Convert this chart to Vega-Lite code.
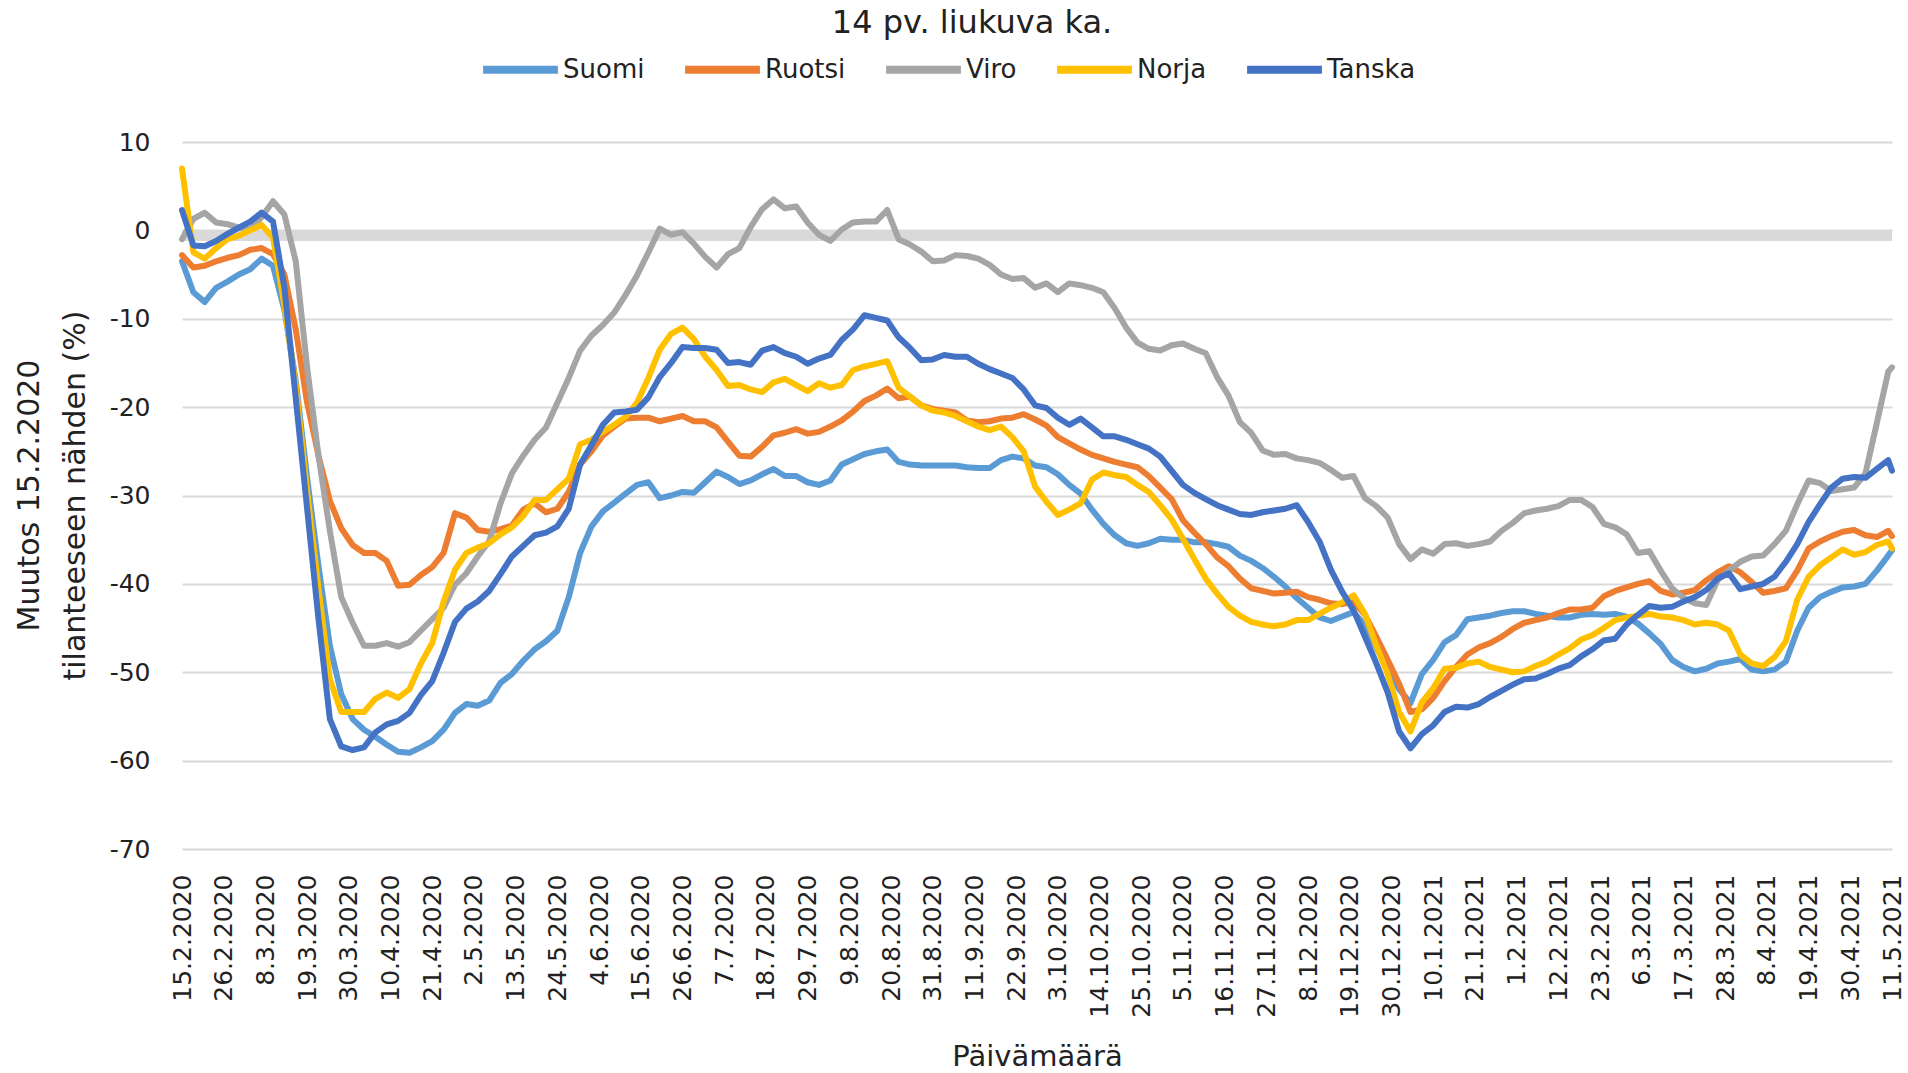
{
  "$schema": "https://vega.github.io/schema/vega-lite/v6.json",
  "width": 1710,
  "height": 707,
  "autosize": {"type": "none"},
  "padding": {"left": 182, "top": 142, "right": 16, "bottom": 224},
  "background": "white",
  "title": {"text": "14 pv. liukuva ka.", "font": "DejaVu Sans", "fontSize": 32, "fontWeight": "normal", "color": "#222222", "anchor": "middle", "dx": -65, "dy": 31, "offset": 4, "baseline": "middle"},
  "data": {"values": [
    {"pvm":"2020-02-15","Suomi":-3.5,"Ruotsi":-2.8,"Viro":-1.0,"Norja":7.0,"Tanska":2.3},
    {"pvm":"2020-02-18","Suomi":-7.0,"Ruotsi":-4.2,"Viro":1.3,"Norja":-2.5,"Tanska":-1.7},
    {"pvm":"2020-02-21","Suomi":-8.1,"Ruotsi":-4.0,"Viro":2.0,"Norja":-3.2,"Tanska":-1.8},
    {"pvm":"2020-02-24","Suomi":-6.5,"Ruotsi":-3.5,"Viro":0.9,"Norja":-2.0,"Tanska":-1.2},
    {"pvm":"2020-02-27","Suomi":-5.8,"Ruotsi":-3.1,"Viro":0.7,"Norja":-1.0,"Tanska":-0.4},
    {"pvm":"2020-03-01","Suomi":-5.0,"Ruotsi":-2.8,"Viro":0.3,"Norja":-0.6,"Tanska":0.3},
    {"pvm":"2020-03-04","Suomi":-4.4,"Ruotsi":-2.2,"Viro":0.1,"Norja":0.0,"Tanska":1.0},
    {"pvm":"2020-03-07","Suomi":-3.2,"Ruotsi":-2.0,"Viro":1.5,"Norja":0.6,"Tanska":2.0},
    {"pvm":"2020-03-10","Suomi":-4.0,"Ruotsi":-2.7,"Viro":3.3,"Norja":-0.8,"Tanska":1.0},
    {"pvm":"2020-03-13","Suomi":-9.0,"Ruotsi":-5.0,"Viro":1.8,"Norja":-8.5,"Tanska":-6.5},
    {"pvm":"2020-03-16","Suomi":-17.0,"Ruotsi":-11.2,"Viro":-3.5,"Norja":-17.5,"Tanska":-19.0},
    {"pvm":"2020-03-19","Suomi":-28.0,"Ruotsi":-19.5,"Viro":-15.5,"Norja":-29.5,"Tanska":-31.5},
    {"pvm":"2020-03-22","Suomi":-38.0,"Ruotsi":-25.5,"Viro":-25.5,"Norja":-40.5,"Tanska":-44.0},
    {"pvm":"2020-03-25","Suomi":-47.0,"Ruotsi":-30.6,"Viro":-34.0,"Norja":-50.8,"Tanska":-55.3},
    {"pvm":"2020-03-28","Suomi":-52.5,"Ruotsi":-33.7,"Viro":-41.5,"Norja":-54.5,"Tanska":-58.4},
    {"pvm":"2020-03-31","Suomi":-55.3,"Ruotsi":-35.6,"Viro":-44.4,"Norja":-54.5,"Tanska":-58.8},
    {"pvm":"2020-04-03","Suomi":-56.5,"Ruotsi":-36.5,"Viro":-47.0,"Norja":-54.5,"Tanska":-58.5},
    {"pvm":"2020-04-06","Suomi":-57.3,"Ruotsi":-36.5,"Viro":-47.0,"Norja":-53.0,"Tanska":-56.8},
    {"pvm":"2020-04-09","Suomi":-58.2,"Ruotsi":-37.4,"Viro":-46.7,"Norja":-52.3,"Tanska":-55.9},
    {"pvm":"2020-04-12","Suomi":-59.0,"Ruotsi":-40.2,"Viro":-47.1,"Norja":-52.9,"Tanska":-55.5},
    {"pvm":"2020-04-15","Suomi":-59.1,"Ruotsi":-40.1,"Viro":-46.6,"Norja":-51.9,"Tanska":-54.6},
    {"pvm":"2020-04-18","Suomi":-58.5,"Ruotsi":-39.0,"Viro":-45.3,"Norja":-49.0,"Tanska":-52.6},
    {"pvm":"2020-04-21","Suomi":-57.8,"Ruotsi":-38.1,"Viro":-44.0,"Norja":-46.7,"Tanska":-51.0},
    {"pvm":"2020-04-24","Suomi":-56.5,"Ruotsi":-36.5,"Viro":-42.7,"Norja":-42.0,"Tanska":-47.8},
    {"pvm":"2020-04-27","Suomi":-54.6,"Ruotsi":-32.0,"Viro":-40.1,"Norja":-38.4,"Tanska":-44.3},
    {"pvm":"2020-04-30","Suomi":-53.6,"Ruotsi":-32.5,"Viro":-38.8,"Norja":-36.5,"Tanska":-42.8},
    {"pvm":"2020-05-03","Suomi":-53.8,"Ruotsi":-33.9,"Viro":-36.9,"Norja":-35.9,"Tanska":-42.0},
    {"pvm":"2020-05-06","Suomi":-53.2,"Ruotsi":-34.1,"Viro":-35.2,"Norja":-35.4,"Tanska":-40.8},
    {"pvm":"2020-05-09","Suomi":-51.2,"Ruotsi":-33.8,"Viro":-30.9,"Norja":-34.4,"Tanska":-38.9},
    {"pvm":"2020-05-12","Suomi":-50.2,"Ruotsi":-33.4,"Viro":-27.5,"Norja":-33.6,"Tanska":-36.9},
    {"pvm":"2020-05-15","Suomi":-48.7,"Ruotsi":-31.6,"Viro":-25.5,"Norja":-32.3,"Tanska":-35.7},
    {"pvm":"2020-05-18","Suomi":-47.4,"Ruotsi":-30.9,"Viro":-23.7,"Norja":-30.5,"Tanska":-34.5},
    {"pvm":"2020-05-21","Suomi":-46.5,"Ruotsi":-31.9,"Viro":-22.3,"Norja":-30.5,"Tanska":-34.2},
    {"pvm":"2020-05-24","Suomi":-45.3,"Ruotsi":-31.5,"Viro":-19.5,"Norja":-29.3,"Tanska":-33.5},
    {"pvm":"2020-05-27","Suomi":-41.5,"Ruotsi":-29.6,"Viro":-16.7,"Norja":-28.1,"Tanska":-31.5},
    {"pvm":"2020-05-30","Suomi":-36.5,"Ruotsi":-26.5,"Viro":-13.6,"Norja":-24.2,"Tanska":-26.5},
    {"pvm":"2020-06-02","Suomi":-33.5,"Ruotsi":-25.0,"Viro":-11.9,"Norja":-23.7,"Tanska":-24.3},
    {"pvm":"2020-06-05","Suomi":-31.8,"Ruotsi":-23.2,"Viro":-10.7,"Norja":-22.8,"Tanska":-22.0},
    {"pvm":"2020-06-08","Suomi":-30.8,"Ruotsi":-22.2,"Viro":-9.3,"Norja":-22.0,"Tanska":-20.6},
    {"pvm":"2020-06-11","Suomi":-29.8,"Ruotsi":-21.3,"Viro":-7.3,"Norja":-21.1,"Tanska":-20.5},
    {"pvm":"2020-06-14","Suomi":-28.8,"Ruotsi":-21.2,"Viro":-5.1,"Norja":-19.5,"Tanska":-20.3},
    {"pvm":"2020-06-17","Suomi":-28.5,"Ruotsi":-21.2,"Viro":-2.5,"Norja":-16.7,"Tanska":-18.9},
    {"pvm":"2020-06-20","Suomi":-30.3,"Ruotsi":-21.6,"Viro":0.2,"Norja":-13.5,"Tanska":-16.6},
    {"pvm":"2020-06-23","Suomi":-30.0,"Ruotsi":-21.3,"Viro":-0.5,"Norja":-11.7,"Tanska":-15.0},
    {"pvm":"2020-06-26","Suomi":-29.6,"Ruotsi":-21.0,"Viro":-0.2,"Norja":-11.0,"Tanska":-13.2},
    {"pvm":"2020-06-29","Suomi":-29.7,"Ruotsi":-21.6,"Viro":-1.5,"Norja":-12.3,"Tanska":-13.3},
    {"pvm":"2020-07-02","Suomi":-28.5,"Ruotsi":-21.6,"Viro":-3.0,"Norja":-14.3,"Tanska":-13.3},
    {"pvm":"2020-07-05","Suomi":-27.3,"Ruotsi":-22.3,"Viro":-4.2,"Norja":-15.8,"Tanska":-13.5},
    {"pvm":"2020-07-08","Suomi":-27.9,"Ruotsi":-23.9,"Viro":-2.7,"Norja":-17.6,"Tanska":-15.0},
    {"pvm":"2020-07-11","Suomi":-28.7,"Ruotsi":-25.5,"Viro":-2.0,"Norja":-17.5,"Tanska":-14.9},
    {"pvm":"2020-07-14","Suomi":-28.3,"Ruotsi":-25.6,"Viro":0.4,"Norja":-18.0,"Tanska":-15.2},
    {"pvm":"2020-07-17","Suomi":-27.6,"Ruotsi":-24.5,"Viro":2.4,"Norja":-18.3,"Tanska":-13.6},
    {"pvm":"2020-07-20","Suomi":-27.0,"Ruotsi":-23.2,"Viro":3.5,"Norja":-17.2,"Tanska":-13.2},
    {"pvm":"2020-07-23","Suomi":-27.8,"Ruotsi":-22.9,"Viro":2.5,"Norja":-16.8,"Tanska":-13.9},
    {"pvm":"2020-07-26","Suomi":-27.8,"Ruotsi":-22.5,"Viro":2.7,"Norja":-17.5,"Tanska":-14.3},
    {"pvm":"2020-07-29","Suomi":-28.5,"Ruotsi":-23.0,"Viro":0.9,"Norja":-18.2,"Tanska":-15.1},
    {"pvm":"2020-08-01","Suomi":-28.8,"Ruotsi":-22.8,"Viro":-0.5,"Norja":-17.3,"Tanska":-14.5},
    {"pvm":"2020-08-04","Suomi":-28.3,"Ruotsi":-22.2,"Viro":-1.2,"Norja":-17.8,"Tanska":-14.1},
    {"pvm":"2020-08-07","Suomi":-26.5,"Ruotsi":-21.5,"Viro":0.1,"Norja":-17.5,"Tanska":-12.4},
    {"pvm":"2020-08-10","Suomi":-25.9,"Ruotsi":-20.5,"Viro":0.9,"Norja":-15.8,"Tanska":-11.2},
    {"pvm":"2020-08-13","Suomi":-25.3,"Ruotsi":-19.3,"Viro":1.0,"Norja":-15.4,"Tanska":-9.6},
    {"pvm":"2020-08-16","Suomi":-25.0,"Ruotsi":-18.7,"Viro":1.0,"Norja":-15.1,"Tanska":-9.9},
    {"pvm":"2020-08-19","Suomi":-24.8,"Ruotsi":-17.9,"Viro":2.3,"Norja":-14.8,"Tanska":-10.2},
    {"pvm":"2020-08-22","Suomi":-26.2,"Ruotsi":-19.0,"Viro":-1.0,"Norja":-17.8,"Tanska":-12.1},
    {"pvm":"2020-08-25","Suomi":-26.5,"Ruotsi":-18.8,"Viro":-1.6,"Norja":-18.8,"Tanska":-13.3},
    {"pvm":"2020-08-28","Suomi":-26.6,"Ruotsi":-19.8,"Viro":-2.4,"Norja":-19.8,"Tanska":-14.7},
    {"pvm":"2020-08-31","Suomi":-26.6,"Ruotsi":-20.2,"Viro":-3.5,"Norja":-20.4,"Tanska":-14.6},
    {"pvm":"2020-09-03","Suomi":-26.6,"Ruotsi":-20.4,"Viro":-3.4,"Norja":-20.6,"Tanska":-14.1},
    {"pvm":"2020-09-06","Suomi":-26.6,"Ruotsi":-20.6,"Viro":-2.8,"Norja":-21.0,"Tanska":-14.3},
    {"pvm":"2020-09-09","Suomi":-26.8,"Ruotsi":-21.5,"Viro":-2.9,"Norja":-21.6,"Tanska":-14.3},
    {"pvm":"2020-09-12","Suomi":-26.9,"Ruotsi":-21.7,"Viro":-3.2,"Norja":-22.2,"Tanska":-15.1},
    {"pvm":"2020-09-15","Suomi":-26.9,"Ruotsi":-21.6,"Viro":-3.9,"Norja":-22.6,"Tanska":-15.7},
    {"pvm":"2020-09-18","Suomi":-26.0,"Ruotsi":-21.3,"Viro":-5.0,"Norja":-22.2,"Tanska":-16.2},
    {"pvm":"2020-09-21","Suomi":-25.6,"Ruotsi":-21.2,"Viro":-5.5,"Norja":-23.4,"Tanska":-16.7},
    {"pvm":"2020-09-24","Suomi":-25.8,"Ruotsi":-20.8,"Viro":-5.4,"Norja":-25.0,"Tanska":-18.0},
    {"pvm":"2020-09-27","Suomi":-26.6,"Ruotsi":-21.4,"Viro":-6.5,"Norja":-29.0,"Tanska":-19.8},
    {"pvm":"2020-09-30","Suomi":-26.8,"Ruotsi":-22.1,"Viro":-6.0,"Norja":-30.7,"Tanska":-20.1},
    {"pvm":"2020-10-03","Suomi":-27.6,"Ruotsi":-23.4,"Viro":-7.0,"Norja":-32.2,"Tanska":-21.2},
    {"pvm":"2020-10-06","Suomi":-28.8,"Ruotsi":-24.1,"Viro":-6.0,"Norja":-31.6,"Tanska":-22.0},
    {"pvm":"2020-10-09","Suomi":-29.8,"Ruotsi":-24.8,"Viro":-6.2,"Norja":-30.9,"Tanska":-21.3},
    {"pvm":"2020-10-12","Suomi":-31.6,"Ruotsi":-25.4,"Viro":-6.5,"Norja":-28.2,"Tanska":-22.3},
    {"pvm":"2020-10-15","Suomi":-33.2,"Ruotsi":-25.8,"Viro":-7.0,"Norja":-27.4,"Tanska":-23.3},
    {"pvm":"2020-10-18","Suomi":-34.5,"Ruotsi":-26.2,"Viro":-8.8,"Norja":-27.7,"Tanska":-23.3},
    {"pvm":"2020-10-21","Suomi":-35.4,"Ruotsi":-26.5,"Viro":-11.0,"Norja":-27.9,"Tanska":-23.7},
    {"pvm":"2020-10-24","Suomi":-35.7,"Ruotsi":-26.8,"Viro":-12.7,"Norja":-28.8,"Tanska":-24.2},
    {"pvm":"2020-10-27","Suomi":-35.4,"Ruotsi":-27.8,"Viro":-13.4,"Norja":-29.6,"Tanska":-24.7},
    {"pvm":"2020-10-30","Suomi":-34.9,"Ruotsi":-29.1,"Viro":-13.6,"Norja":-31.1,"Tanska":-25.6},
    {"pvm":"2020-11-02","Suomi":-35.0,"Ruotsi":-30.4,"Viro":-13.0,"Norja":-32.7,"Tanska":-27.2},
    {"pvm":"2020-11-05","Suomi":-35.0,"Ruotsi":-32.8,"Viro":-12.8,"Norja":-34.9,"Tanska":-28.8},
    {"pvm":"2020-11-08","Suomi":-35.3,"Ruotsi":-34.2,"Viro":-13.4,"Norja":-37.2,"Tanska":-29.7},
    {"pvm":"2020-11-11","Suomi":-35.3,"Ruotsi":-35.5,"Viro":-13.9,"Norja":-39.4,"Tanska":-30.4},
    {"pvm":"2020-11-14","Suomi":-35.5,"Ruotsi":-37.0,"Viro":-16.6,"Norja":-41.1,"Tanska":-31.1},
    {"pvm":"2020-11-17","Suomi":-35.8,"Ruotsi":-38.0,"Viro":-18.7,"Norja":-42.6,"Tanska":-31.6},
    {"pvm":"2020-11-20","Suomi":-36.8,"Ruotsi":-39.4,"Viro":-21.7,"Norja":-43.6,"Tanska":-32.1},
    {"pvm":"2020-11-23","Suomi":-37.4,"Ruotsi":-40.5,"Viro":-22.9,"Norja":-44.3,"Tanska":-32.2},
    {"pvm":"2020-11-26","Suomi":-38.2,"Ruotsi":-40.8,"Viro":-24.9,"Norja":-44.6,"Tanska":-31.9},
    {"pvm":"2020-11-29","Suomi":-39.2,"Ruotsi":-41.1,"Viro":-25.4,"Norja":-44.8,"Tanska":-31.7},
    {"pvm":"2020-12-02","Suomi":-40.3,"Ruotsi":-41.0,"Viro":-25.3,"Norja":-44.6,"Tanska":-31.5},
    {"pvm":"2020-12-05","Suomi":-41.6,"Ruotsi":-40.9,"Viro":-25.8,"Norja":-44.1,"Tanska":-31.1},
    {"pvm":"2020-12-08","Suomi":-42.7,"Ruotsi":-41.5,"Viro":-26.0,"Norja":-44.1,"Tanska":-33.0},
    {"pvm":"2020-12-11","Suomi":-43.8,"Ruotsi":-41.8,"Viro":-26.3,"Norja":-43.4,"Tanska":-35.2},
    {"pvm":"2020-12-14","Suomi":-44.2,"Ruotsi":-42.2,"Viro":-27.1,"Norja":-42.7,"Tanska":-38.4},
    {"pvm":"2020-12-17","Suomi":-43.7,"Ruotsi":-42.3,"Viro":-28.0,"Norja":-42.1,"Tanska":-40.9},
    {"pvm":"2020-12-20","Suomi":-43.2,"Ruotsi":-42.0,"Viro":-27.8,"Norja":-41.3,"Tanska":-43.0},
    {"pvm":"2020-12-23","Suomi":-44.7,"Ruotsi":-43.5,"Viro":-30.3,"Norja":-43.4,"Tanska":-46.0},
    {"pvm":"2020-12-26","Suomi":-47.2,"Ruotsi":-46.0,"Viro":-31.2,"Norja":-47.0,"Tanska":-49.0},
    {"pvm":"2020-12-29","Suomi":-49.8,"Ruotsi":-48.6,"Viro":-32.5,"Norja":-50.2,"Tanska":-52.3},
    {"pvm":"2021-01-01","Suomi":-51.9,"Ruotsi":-51.3,"Viro":-35.5,"Norja":-54.5,"Tanska":-56.7},
    {"pvm":"2021-01-04","Suomi":-53.5,"Ruotsi":-54.5,"Viro":-37.2,"Norja":-56.7,"Tanska":-58.6},
    {"pvm":"2021-01-07","Suomi":-50.2,"Ruotsi":-54.2,"Viro":-36.1,"Norja":-53.4,"Tanska":-57.0},
    {"pvm":"2021-01-10","Suomi":-48.6,"Ruotsi":-52.9,"Viro":-36.6,"Norja":-51.8,"Tanska":-56.0},
    {"pvm":"2021-01-13","Suomi":-46.6,"Ruotsi":-51.0,"Viro":-35.5,"Norja":-49.6,"Tanska":-54.5},
    {"pvm":"2021-01-16","Suomi":-45.8,"Ruotsi":-49.4,"Viro":-35.4,"Norja":-49.5,"Tanska":-53.9},
    {"pvm":"2021-01-19","Suomi":-44.0,"Ruotsi":-48.0,"Viro":-35.7,"Norja":-49.0,"Tanska":-54.0},
    {"pvm":"2021-01-22","Suomi":-43.8,"Ruotsi":-47.2,"Viro":-35.5,"Norja":-48.8,"Tanska":-53.6},
    {"pvm":"2021-01-25","Suomi":-43.6,"Ruotsi":-46.7,"Viro":-35.2,"Norja":-49.4,"Tanska":-52.8},
    {"pvm":"2021-01-28","Suomi":-43.3,"Ruotsi":-46.0,"Viro":-34.0,"Norja":-49.7,"Tanska":-52.1},
    {"pvm":"2021-01-31","Suomi":-43.1,"Ruotsi":-45.1,"Viro":-33.1,"Norja":-50.0,"Tanska":-51.4},
    {"pvm":"2021-02-03","Suomi":-43.1,"Ruotsi":-44.4,"Viro":-32.0,"Norja":-49.9,"Tanska":-50.8},
    {"pvm":"2021-02-06","Suomi":-43.4,"Ruotsi":-44.1,"Viro":-31.7,"Norja":-49.3,"Tanska":-50.7},
    {"pvm":"2021-02-09","Suomi":-43.6,"Ruotsi":-43.8,"Viro":-31.5,"Norja":-48.8,"Tanska":-50.2},
    {"pvm":"2021-02-12","Suomi":-43.8,"Ruotsi":-43.3,"Viro":-31.2,"Norja":-48.0,"Tanska":-49.6},
    {"pvm":"2021-02-15","Suomi":-43.8,"Ruotsi":-42.9,"Viro":-30.5,"Norja":-47.3,"Tanska":-49.2},
    {"pvm":"2021-02-18","Suomi":-43.5,"Ruotsi":-42.9,"Viro":-30.5,"Norja":-46.3,"Tanska":-48.2},
    {"pvm":"2021-02-21","Suomi":-43.4,"Ruotsi":-42.7,"Viro":-31.3,"Norja":-45.8,"Tanska":-47.4},
    {"pvm":"2021-02-24","Suomi":-43.5,"Ruotsi":-41.4,"Viro":-33.2,"Norja":-45.0,"Tanska":-46.4},
    {"pvm":"2021-02-27","Suomi":-43.4,"Ruotsi":-40.8,"Viro":-33.6,"Norja":-44.1,"Tanska":-46.2},
    {"pvm":"2021-03-02","Suomi":-43.7,"Ruotsi":-40.4,"Viro":-34.4,"Norja":-43.8,"Tanska":-44.6},
    {"pvm":"2021-03-05","Suomi":-44.5,"Ruotsi":-40.0,"Viro":-36.5,"Norja":-43.6,"Tanska":-43.5},
    {"pvm":"2021-03-08","Suomi":-45.6,"Ruotsi":-39.7,"Viro":-36.3,"Norja":-43.4,"Tanska":-42.5},
    {"pvm":"2021-03-11","Suomi":-46.8,"Ruotsi":-40.8,"Viro":-38.5,"Norja":-43.7,"Tanska":-42.7},
    {"pvm":"2021-03-14","Suomi":-48.6,"Ruotsi":-41.2,"Viro":-40.5,"Norja":-43.8,"Tanska":-42.6},
    {"pvm":"2021-03-17","Suomi":-49.4,"Ruotsi":-41.0,"Viro":-41.6,"Norja":-44.1,"Tanska":-42.0},
    {"pvm":"2021-03-20","Suomi":-49.9,"Ruotsi":-40.7,"Viro":-42.2,"Norja":-44.6,"Tanska":-41.5},
    {"pvm":"2021-03-23","Suomi":-49.6,"Ruotsi":-39.6,"Viro":-42.4,"Norja":-44.4,"Tanska":-40.7},
    {"pvm":"2021-03-26","Suomi":-49.0,"Ruotsi":-38.7,"Viro":-39.6,"Norja":-44.6,"Tanska":-39.4},
    {"pvm":"2021-03-29","Suomi":-48.8,"Ruotsi":-38.0,"Viro":-38.5,"Norja":-45.3,"Tanska":-38.8},
    {"pvm":"2021-04-01","Suomi":-48.5,"Ruotsi":-38.7,"Viro":-37.5,"Norja":-48.0,"Tanska":-40.6},
    {"pvm":"2021-04-04","Suomi":-49.7,"Ruotsi":-39.8,"Viro":-36.9,"Norja":-49.0,"Tanska":-40.3},
    {"pvm":"2021-04-07","Suomi":-49.9,"Ruotsi":-41.0,"Viro":-36.8,"Norja":-49.3,"Tanska":-40.0},
    {"pvm":"2021-04-10","Suomi":-49.7,"Ruotsi":-40.8,"Viro":-35.5,"Norja":-48.3,"Tanska":-39.2},
    {"pvm":"2021-04-13","Suomi":-48.8,"Ruotsi":-40.5,"Viro":-34.0,"Norja":-46.5,"Tanska":-37.5},
    {"pvm":"2021-04-16","Suomi":-45.3,"Ruotsi":-38.5,"Viro":-31.0,"Norja":-41.8,"Tanska":-35.5},
    {"pvm":"2021-04-19","Suomi":-42.7,"Ruotsi":-36.0,"Viro":-28.3,"Norja":-39.2,"Tanska":-33.0},
    {"pvm":"2021-04-22","Suomi":-41.5,"Ruotsi":-35.2,"Viro":-28.6,"Norja":-37.9,"Tanska":-31.0},
    {"pvm":"2021-04-25","Suomi":-40.9,"Ruotsi":-34.6,"Viro":-29.5,"Norja":-37.0,"Tanska":-29.1},
    {"pvm":"2021-04-28","Suomi":-40.4,"Ruotsi":-34.1,"Viro":-29.3,"Norja":-36.1,"Tanska":-28.1},
    {"pvm":"2021-05-01","Suomi":-40.3,"Ruotsi":-33.9,"Viro":-29.1,"Norja":-36.7,"Tanska":-27.9},
    {"pvm":"2021-05-04","Suomi":-40.0,"Ruotsi":-34.5,"Viro":-27.5,"Norja":-36.4,"Tanska":-28.0},
    {"pvm":"2021-05-07","Suomi":-38.5,"Ruotsi":-34.7,"Viro":-21.8,"Norja":-35.6,"Tanska":-27.0},
    {"pvm":"2021-05-10","Suomi":-36.8,"Ruotsi":-34.0,"Viro":-16.0,"Norja":-35.2,"Tanska":-26.0},
    {"pvm":"2021-05-11","Suomi":-36.2,"Ruotsi":-34.6,"Viro":-15.5,"Norja":-36.0,"Tanska":-27.2}
  ]},
  "transform": [{"fold": ["Suomi", "Ruotsi", "Viro", "Norja", "Tanska"], "as": ["maa", "arvo"]}],
  "encoding": {
    "x": {
      "field": "pvm", "type": "temporal",
      "scale": {"type": "utc", "domain": [{"year": 2020, "month": 2, "date": 15, "utc": true}, {"year": 2021, "month": 5, "date": 11, "utc": true}]},
      "axis": {
        "title": "Päivämäärä", "titleFont": "DejaVu Sans", "titleFontSize": 29, "titleFontWeight": "normal", "titleColor": "#222222",
        "titleY": 207, "titleBaseline": "middle",
        "labelExpr": "utcFormat(datum.value, '%-d.%-m.%Y')",
        "labelAngle": -90, "labelFont": "DejaVu Sans", "labelFontSize": 25, "labelColor": "#222222", "labelPadding": 25,
        "labelOverlap": false, "labelBound": false, "labelFlush": false,
        "domain": false, "ticks": false, "grid": false,
        "values": [
          {"year":2020,"month":2,"date":15,"utc":true},{"year":2020,"month":2,"date":26,"utc":true},{"year":2020,"month":3,"date":8,"utc":true},
          {"year":2020,"month":3,"date":19,"utc":true},{"year":2020,"month":3,"date":30,"utc":true},{"year":2020,"month":4,"date":10,"utc":true},
          {"year":2020,"month":4,"date":21,"utc":true},{"year":2020,"month":5,"date":2,"utc":true},{"year":2020,"month":5,"date":13,"utc":true},
          {"year":2020,"month":5,"date":24,"utc":true},{"year":2020,"month":6,"date":4,"utc":true},{"year":2020,"month":6,"date":15,"utc":true},
          {"year":2020,"month":6,"date":26,"utc":true},{"year":2020,"month":7,"date":7,"utc":true},{"year":2020,"month":7,"date":18,"utc":true},
          {"year":2020,"month":7,"date":29,"utc":true},{"year":2020,"month":8,"date":9,"utc":true},{"year":2020,"month":8,"date":20,"utc":true},
          {"year":2020,"month":8,"date":31,"utc":true},{"year":2020,"month":9,"date":11,"utc":true},{"year":2020,"month":9,"date":22,"utc":true},
          {"year":2020,"month":10,"date":3,"utc":true},{"year":2020,"month":10,"date":14,"utc":true},{"year":2020,"month":10,"date":25,"utc":true},
          {"year":2020,"month":11,"date":5,"utc":true},{"year":2020,"month":11,"date":16,"utc":true},{"year":2020,"month":11,"date":27,"utc":true},
          {"year":2020,"month":12,"date":8,"utc":true},{"year":2020,"month":12,"date":19,"utc":true},{"year":2020,"month":12,"date":30,"utc":true},
          {"year":2021,"month":1,"date":10,"utc":true},{"year":2021,"month":1,"date":21,"utc":true},{"year":2021,"month":2,"date":1,"utc":true},
          {"year":2021,"month":2,"date":12,"utc":true},{"year":2021,"month":2,"date":23,"utc":true},{"year":2021,"month":3,"date":6,"utc":true},
          {"year":2021,"month":3,"date":17,"utc":true},{"year":2021,"month":3,"date":28,"utc":true},{"year":2021,"month":4,"date":8,"utc":true},
          {"year":2021,"month":4,"date":19,"utc":true},{"year":2021,"month":4,"date":30,"utc":true},{"year":2021,"month":5,"date":11,"utc":true}
        ]
      }
    },
    "y": {
      "field": "arvo", "type": "quantitative",
      "scale": {"domain": [-70, 10], "nice": false, "zero": false},
      "axis": {
        "title": ["Muutos 15.2.2020", "tilanteeseen nähden (%)"],
        "titleFont": "DejaVu Sans", "titleFontSize": 30, "titleFontWeight": "normal", "titleColor": "#222222",
        "titleX": -153, "titleY": 353, "titleBaseline": "middle", "titleAngle": -90, "titleLineHeight": 46,
        "values": [-70, -60, -50, -40, -30, -20, -10, 0, 10],
        "labelExpr": "toString(datum.value)",
        "labelFont": "DejaVu Sans", "labelFontSize": 25, "labelColor": "#222222", "labelPadding": 32,
        "domain": false, "ticks": false,
        "grid": true, "gridColor": "#d9d9d9", "gridWidth": 2
      }
    }
  },
  "layer": [
    {
      "mark": {"type": "rule", "color": "#d9d9d9", "strokeWidth": 10, "yOffset": 5},
      "encoding": {"x": {"value": 0}, "x2": {"value": 1710}, "y": {"datum": 0}}
    },
    {
      "mark": {"type": "line", "strokeWidth": 6, "strokeJoin": "round", "strokeCap": "round"},
      "encoding": {
        "color": {
          "field": "maa", "type": "nominal",
          "scale": {"domain": ["Suomi", "Ruotsi", "Viro", "Norja", "Tanska"], "range": ["#5B9BD5", "#ED7D31", "#A5A5A5", "#FFC000", "#4472C4"]},
          "legend": {
            "orient": "none", "legendX": 297, "legendY": -114, "direction": "horizontal", "columns": 5, "title": null,
            "symbolType": "stroke", "symbolSize": 5600, "symbolStrokeWidth": 8,
            "labelFont": "DejaVu Sans", "labelFontSize": 26, "labelColor": "#222222", "labelOffset": 1, "columnPadding": 24
          }
        }
      }
    }
  ],
  "config": {"view": {"stroke": null}, "font": "DejaVu Sans"}
}
